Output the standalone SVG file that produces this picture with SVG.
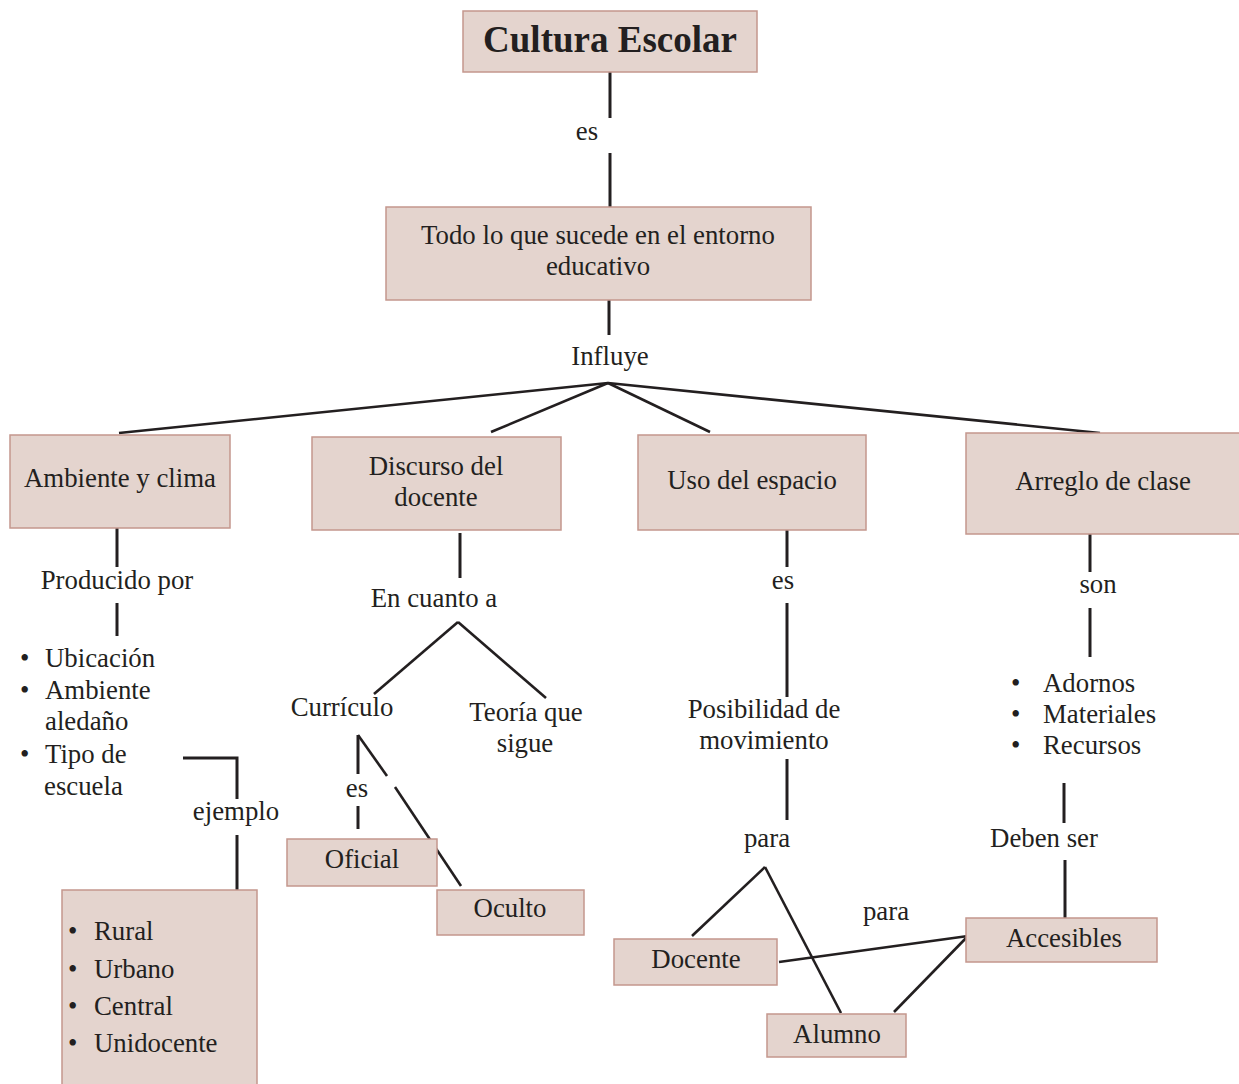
<svg xmlns="http://www.w3.org/2000/svg" width="1239" height="1084" viewBox="0 0 1239 1084">
<style>
.box{fill:#e4d4ce;stroke:#c4978d;stroke-width:1.5}
.t{font-family:"Liberation Serif","Times New Roman",serif;font-size:26.8px;fill:#231f20}
.c{text-anchor:middle}
.b{font-weight:bold;font-size:37px}
.ln{stroke:#231f20;stroke-width:3;fill:none;stroke-linecap:butt}
.dg{stroke:#231f20;stroke-width:2.6;fill:none}
</style>
<rect width="1239" height="1084" fill="#ffffff"/>
<g id="connectors">
<line class="ln" x1="610" y1="72" x2="610" y2="118"/>
<line class="ln" x1="610" y1="153" x2="610" y2="207"/>
<line class="ln" x1="609" y1="300" x2="609" y2="335"/>
<line class="dg" x1="608" y1="383" x2="119" y2="433"/>
<line class="dg" x1="608" y1="383" x2="491" y2="432"/>
<line class="dg" x1="608" y1="383" x2="710" y2="432"/>
<line class="dg" x1="608" y1="383" x2="1100" y2="433"/>
<line class="ln" x1="117" y1="528" x2="117" y2="567"/>
<line class="ln" x1="117" y1="603" x2="117" y2="636"/>
<polyline class="ln" points="183,758 237,758 237,799"/>
<line class="ln" x1="237" y1="835" x2="237" y2="890"/>
<line class="ln" x1="460" y1="533" x2="460" y2="578"/>
<line class="dg" x1="458" y1="622" x2="374" y2="694"/>
<line class="dg" x1="458" y1="622" x2="546" y2="698"/>
<line class="ln" x1="358" y1="735" x2="358" y2="774"/>
<line class="ln" x1="358" y1="806" x2="358" y2="829"/>
<line class="dg" x1="358" y1="735" x2="387" y2="776"/>
<line class="dg" x1="395" y1="787" x2="461" y2="886"/>
<line class="ln" x1="787" y1="530" x2="787" y2="567"/>
<line class="ln" x1="787" y1="603" x2="787" y2="697"/>
<line class="ln" x1="787" y1="759" x2="787" y2="820"/>
<line class="dg" x1="765" y1="867" x2="692" y2="936"/>
<line class="dg" x1="765" y1="867" x2="841" y2="1013"/>
<line class="dg" x1="779" y1="962" x2="968" y2="936"/>
<line class="dg" x1="968" y1="936" x2="894" y2="1012"/>
<line class="ln" x1="1090" y1="534" x2="1090" y2="572"/>
<line class="ln" x1="1090" y1="608" x2="1090" y2="657"/>
<line class="ln" x1="1064" y1="783" x2="1064" y2="823"/>
<line class="ln" x1="1065" y1="860" x2="1065" y2="918"/>
</g>
<g id="cultura"><rect class="box" x="463" y="11" width="294" height="61"/><text class="t b c" x="610" y="52">Cultura Escolar</text></g>
<text class="t c" x="587" y="140">es</text>
<g id="todo"><rect class="box" x="386" y="207" width="425" height="93"/><text class="t c" x="598" y="244">Todo lo que sucede en el entorno</text><text class="t c" x="598" y="275">educativo</text></g>
<text class="t c" x="610" y="365">Influye</text>
<g id="ambiente"><rect class="box" x="10" y="435" width="220" height="93"/><text class="t c" x="120" y="487">Ambiente y clima</text></g>
<g id="discurso"><rect class="box" x="312" y="437" width="249" height="93"/><text class="t c" x="436" y="475">Discurso del</text><text class="t c" x="436" y="506">docente</text></g>
<g id="uso"><rect class="box" x="638" y="435" width="228" height="95"/><text class="t c" x="752" y="489">Uso del espacio</text></g>
<g id="arreglo"><rect class="box" x="966" y="433" width="280" height="101"/><text class="t c" x="1103" y="490">Arreglo de clase</text></g>
<text class="t c" x="117" y="589">Producido por</text>
<g id="lista1" class="t">
<text x="20" y="667">•</text><text x="45" y="667">Ubicación</text>
<text x="20" y="699">•</text><text x="45" y="699">Ambiente</text>
<text x="45" y="730">aledaño</text>
<text x="20" y="763">•</text><text x="45" y="763">Tipo de</text>
<text x="44" y="795">escuela</text>
</g>
<text class="t c" x="236" y="820">ejemplo</text>
<g id="tipos"><rect class="box" x="62" y="890" width="195" height="200"/>
<g class="t"><text x="68" y="940">•</text><text x="94" y="940">Rural</text>
<text x="68" y="978">•</text><text x="94" y="978">Urbano</text>
<text x="68" y="1015">•</text><text x="94" y="1015">Central</text>
<text x="68" y="1052">•</text><text x="94" y="1052">Unidocente</text></g></g>
<text class="t c" x="434" y="607">En cuanto a</text>
<text class="t c" x="342" y="716">Currículo</text>
<text class="t c" x="526" y="721">Teoría que</text>
<text class="t c" x="525" y="752">sigue</text>
<text class="t c" x="357" y="797">es</text>
<g id="oficial"><rect class="box" x="287" y="839" width="150" height="47"/><text class="t c" x="362" y="868">Oficial</text></g>
<g id="oculto"><rect class="box" x="437" y="890" width="147" height="45"/><text class="t c" x="510" y="917">Oculto</text></g>
<text class="t c" x="783" y="589">es</text>
<text class="t c" x="764" y="718">Posibilidad de</text>
<text class="t c" x="764" y="749">movimiento</text>
<text class="t c" x="767" y="847">para</text>
<text class="t c" x="886" y="920">para</text>
<g id="docente"><rect class="box" x="614" y="939" width="163" height="46"/><text class="t c" x="696" y="968">Docente</text></g>
<g id="alumno"><rect class="box" x="767" y="1014" width="139" height="43"/><text class="t c" x="837" y="1043">Alumno</text></g>
<g id="accesibles"><rect class="box" x="966" y="918" width="191" height="44"/><text class="t c" x="1064" y="947">Accesibles</text></g>
<text class="t c" x="1098" y="593">son</text>
<g id="lista2" class="t">
<text x="1011" y="692">•</text><text x="1043" y="692">Adornos</text>
<text x="1011" y="723">•</text><text x="1043" y="723">Materiales</text>
<text x="1011" y="754">•</text><text x="1043" y="754">Recursos</text>
</g>
<text class="t c" x="1044" y="847">Deben ser</text>
</svg>
